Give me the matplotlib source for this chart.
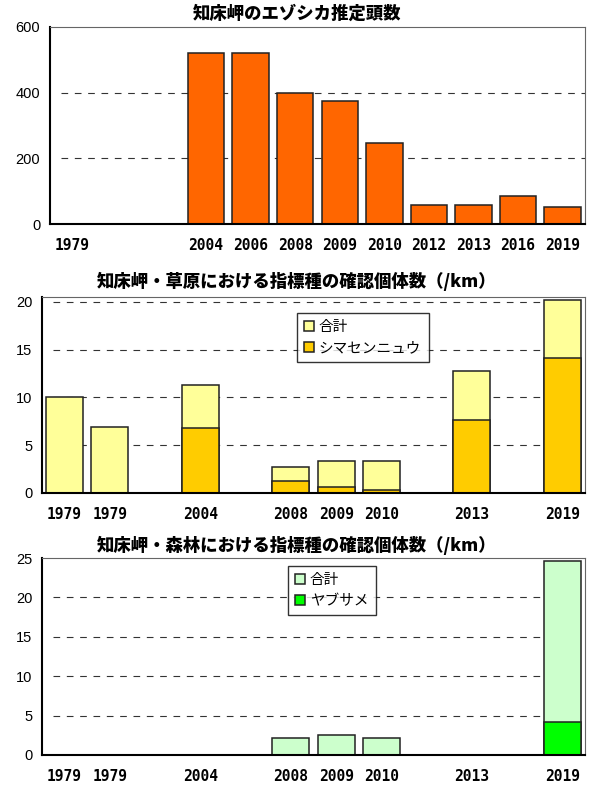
import numpy as np
import matplotlib.pyplot as plt

plt.rcParams['font.family'] = ['Noto Sans CJK JP', 'DejaVu Sans']

# category slots are shared by the three panels (12 slots, some empty)
deer_slots = [0, 3, 4, 5, 6, 7, 8, 9, 10, 11]
deer_labels = ['1979', '2004', '2006', '2008', '2009', '2010', '2012', '2013', '2016', '2019']
deer_count = [0, 520, 520, 400, 375, 247, 57, 57, 86, 53]

bird_slots = [0, 1, 3, 5, 6, 7, 9, 11]
bird_labels = ['1979', '1979', '2004', '2008', '2009', '2010', '2013', '2019']

grass_total = [10.0, 6.9, 11.25, 2.7, 3.37, 3.37, 12.8, 20.2]
grass_shima = [0, 0, 6.75, 1.25, 0.59, 0.31, 7.6, 14.17]

forest_total = [0, 0, 0, 2.2, 2.55, 2.2, 0, 24.6]
forest_yabu = [0, 0, 0, 0, 0, 0, 0, 4.24]

W, H = 589, 787
fig = plt.figure(figsize=(W / 100, H / 100), dpi=100)


def make_ax(left, right, top, bottom):
    return fig.add_axes([left / W, 1 - bottom / H, (right - left) / W, (bottom - top) / H])


def style(ax, ymax, yticks, slots, labels):
    ax.set_xlim(-0.5, 11.5)
    ax.set_ylim(0, ymax)
    ax.set_yticks(yticks)
    ax.set_yticklabels([str(t) for t in yticks], family='Liberation Sans', fontsize=10.5)
    ax.set_xticks(slots)
    ax.set_xticklabels(labels, family='DejaVu Sans Mono', fontweight='bold', fontsize=10.5)
    ax.tick_params(length=0, axis='x', pad=10)
    ax.tick_params(length=0, axis='y', pad=7)
    for t in yticks:
        if 0 < t < ymax:
            ax.axhline(t, color='#333333', lw=0.8, ls=(0, (6, 6)), zorder=0, xmin=0.02)
    for s in ['left', 'bottom']:
        ax.spines[s].set_linewidth(1.5)
        ax.spines[s].set_color('black')
    for s in ['top', 'right']:
        ax.spines[s].set_linewidth(0.8)
        ax.spines[s].set_color('#666666')


def add_legend(ax, x, y):
    leg = ax.legend(loc='upper left', bbox_to_anchor=(x, y), borderaxespad=0,
                    frameon=True, fancybox=False, fontsize=10.5, handlelength=0.65,
                    handleheight=0.65, handletextpad=0.35, borderpad=0.5, labelspacing=0.45)
    leg.get_frame().set_edgecolor('black')
    leg.get_frame().set_linewidth(1)
    return leg


bw = 0.82
title_kw = dict(ha='center', va='center', fontsize=12.5, fontweight='heavy')

# deer estimate
ax1 = make_ax(50, 585, 27, 224)
ax1.bar(deer_slots, deer_count, width=bw, color='#FF6600', edgecolor='#222222', lw=1.1)
style(ax1, 600, [0, 200, 400, 600], deer_slots, deer_labels)
fig.text(0.505, 1 - 14 / H, '知床岬のエゾシカ推定頭数', **title_kw)

# grassland indicator species
ax2 = make_ax(42, 585, 297, 493)
ax2.bar(bird_slots, grass_total, width=bw, color='#FFFF99', edgecolor='#222222', lw=1.1, label='合計')
ax2.bar(bird_slots, grass_shima, width=bw, color='#FFCC00', edgecolor='#222222', lw=1.1, label='シマセンニュウ')
style(ax2, 20.5, [0, 5, 10, 15, 20], bird_slots, bird_labels)
fig.text(0.503, 1 - 281 / H, '知床岬・草原における指標種の確認個体数（/km）', **title_kw)
add_legend(ax2, (297 - 42) / 543, (493 - 313) / 196)

# forest indicator species
ax3 = make_ax(42, 585, 558, 755)
ax3.bar(bird_slots, forest_total, width=bw, color='#CCFFCC', edgecolor='#222222', lw=1.1, label='合計')
ax3.bar(bird_slots, forest_yabu, width=bw, color='#00FF00', edgecolor='#222222', lw=1.1, label='ヤブサメ')
style(ax3, 25, [0, 5, 10, 15, 20, 25], bird_slots, bird_labels)
fig.text(0.503, 1 - 545 / H, '知床岬・森林における指標種の確認個体数（/km）', **title_kw)
add_legend(ax3, (288 - 42) / 543, (755 - 566) / 197)

fig.savefig('out.png', dpi=100)
